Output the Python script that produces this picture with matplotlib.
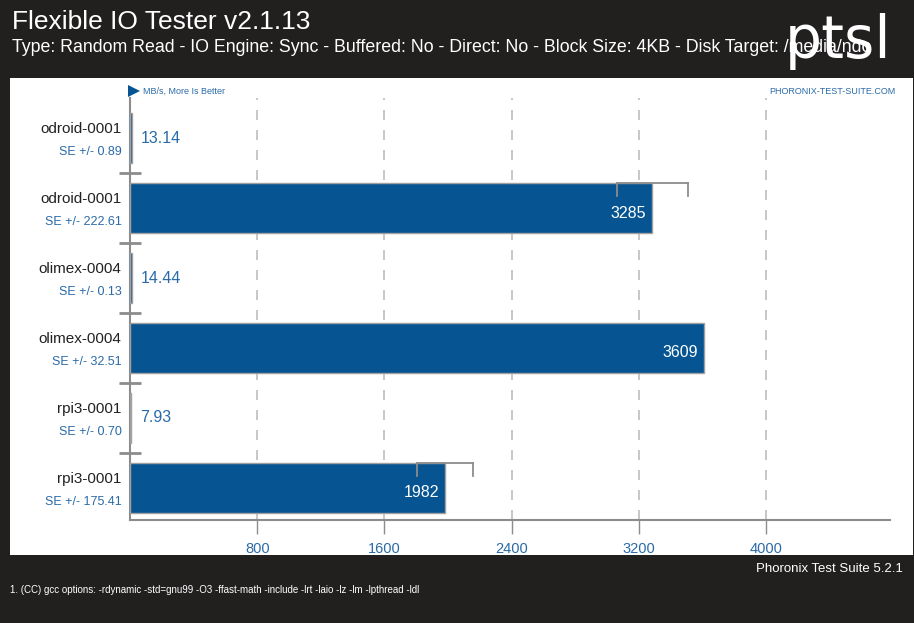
import numpy as np
import matplotlib
matplotlib.use('Agg')
import matplotlib.pyplot as plt
import matplotlib.patches as patches
from matplotlib import font_manager

# 폰트: 가능한 좁은 글꼴 사용
names = set(f.name for f in font_manager.fontManager.ttflist)
font = 'Liberation Sans Narrow' if 'Liberation Sans Narrow' in names else 'Liberation Sans'
plt.rcParams['font.family'] = [font, 'DejaVu Sans']

# data
systems = ['odroid-0001', 'odroid-0001', 'olimex-0004', 'olimex-0004', 'rpi3-0001', 'rpi3-0001']
values = [13.14, 3285, 14.44, 3609, 7.93, 1982]
errors = [0.89, 222.61, 0.13, 32.51, 0.70, 175.41]
value_labels = ['13.14', '3285', '14.44', '3609', '7.93', '1982']
se_labels = ['SE +/- 0.89', 'SE +/- 222.61', 'SE +/- 0.13', 'SE +/- 32.51', 'SE +/- 0.70', 'SE +/- 175.41']
xticks = [800, 1600, 2400, 3200, 4000]

dark = '#221f1f'
blue = '#065592'
txtblue = '#2a6aa8'
gray = '#8c8c8c'

W, H = 914, 623
fig = plt.figure(figsize=(W / 100, H / 100), dpi=100, facecolor=dark)

# 흰색 패널
fig.patches.append(patches.Rectangle((10 / W, 1 - 555 / H), 903 / W, 477 / H,
                                     transform=fig.transFigure, facecolor='white',
                                     edgecolor='none', zorder=-5))

ax = fig.add_axes([130 / W, 1 - 520 / H, 760 / W, 422 / H])
ax.set_facecolor('none')
ax.set_zorder(2)

pos = np.arange(len(values))
bh = 0.72
ax.barh(pos, values, height=bh, color=blue, edgecolor='#a0a0a0', linewidth=1, zorder=3)

# 오차 막대 (괄호 모양) - 작은 건 생략
for p, v, e in zip(pos, values, errors):
    if e < 0.02 * v or v < 100:
        continue
    top = p - bh / 2
    ax.plot([v - e, v + e], [top, top], color=gray, lw=1.3, zorder=4)
    ax.plot([v - e, v - e], [top, top + 0.19], color=gray, lw=1.3, zorder=4)
    ax.plot([v + e, v + e], [top, top + 0.19], color=gray, lw=1.3, zorder=4)

ax.set_xlim(0, 4780)
ax.set_ylim(5.46, -0.575)

ax.set_xticks(xticks)
ax.set_xticklabels([str(t) for t in xticks], color=txtblue, fontsize=10.5)
ax.tick_params(axis='x', length=10, color=gray, width=1, pad=6)
ax.set_yticks([])
ax.set_yticks(pos[:-1] + 0.5, minor=True)
ax.tick_params(axis='y', which='minor', direction='inout', length=16, color=gray, width=2)

for t in xticks:
    ax.axvline(t, color='#bdbdbd', lw=1.2, ls=(0, (6, 6)), zorder=1)

for s in ['top', 'right']:
    ax.spines[s].set_visible(False)
ax.spines['left'].set_color(gray)
ax.spines['left'].set_linewidth(1.5)
ax.spines['bottom'].set_color(gray)
ax.spines['bottom'].set_linewidth(1.5)

# 라벨
ytr = ax.get_yaxis_transform()
for p, name, se, v, lab in zip(pos, systems, se_labels, values, value_labels):
    ax.text(-0.011, p - 0.13, name, transform=ytr, ha='right', va='center', fontsize=11, color='#222222')
    ax.text(-0.011, p + 0.2, se, transform=ytr, ha='right', va='center', fontsize=9, color=txtblue)
    if v < 100:
        ax.text(v + 55, p, lab, ha='left', va='center', fontsize=11.5, color=txtblue, zorder=5)
    else:
        ax.text(v - 40, p + 0.07, lab, ha='right', va='center', fontsize=11.5, color='white', zorder=5)

# 헤더
fig.text(12 / W, 1 - 22 / H, 'Flexible IO Tester v2.1.13', color='white', fontsize=19, va='center', ha='left')
fig.text(12 / W, 1 - 48 / H,
         'Type: Random Read - IO Engine: Sync - Buffered: No - Direct: No - Block Size: 4KB - Disk Target: /media/ndo',
         color='white', fontsize=12.8, va='center', ha='left')
fig.text(838 / W, 1 - 42 / H, 'ptsl', color='white', fontsize=42,
         va='center', ha='center', family='DejaVu Sans')

fig.patches.append(patches.Polygon([[128 / W, 1 - 85 / H], [128 / W, 1 - 97 / H], [140 / W, 1 - 91 / H]],
                                   closed=True, transform=fig.transFigure, facecolor=blue, edgecolor='none'))
fig.text(143 / W, 1 - 91 / H, "MB/s, More Is Better", color=txtblue, fontsize=6.5, va='center', ha='left')
fig.text(895 / W, 1 - 91 / H, 'PHORONIX-TEST-SUITE.COM', color=txtblue, fontsize=6.5, va='center', ha='right')

# 푸터
fig.text(903 / W, 1 - 569 / H, 'Phoronix Test Suite 5.2.1', color='white', fontsize=9.5, va='center', ha='right')
fig.text(10 / W, 1 - 590 / H,
         '1. (CC) gcc options: -rdynamic -std=gnu99 -O3 -ffast-math -include -lrt -laio -lz -lm -lpthread -ldl',
         color='white', fontsize=7, va='center', ha='left')

fig.savefig('out.png', dpi=100, facecolor=dark)
